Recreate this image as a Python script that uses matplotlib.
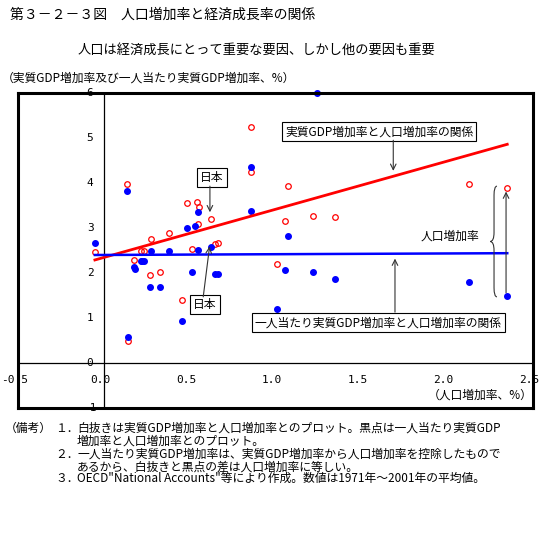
import numpy as np
import matplotlib
matplotlib.use('Agg')
import matplotlib.pyplot as plt
from matplotlib.path import Path
from matplotlib.patches import PathPatch

# 字体：日文用 Noto Sans CJK JP，缺字时退回 DejaVu Sans
plt.rcParams['font.family'] = ['Noto Sans CJK JP', 'DejaVu Sans']
plt.rcParams['axes.unicode_minus'] = False

# 数据
# 白抜き：実質GDP増加率 vs 人口増加率
red_x = [-0.052, 0.135, 0.141, 0.176, 0.215, 0.234, 0.267, 0.273, 0.326, 0.380,
         0.457, 0.484, 0.512, 0.540, 0.552, 0.549, 0.626, 0.649, 0.665, 0.859,
         0.855, 1.008, 1.058, 1.072, 1.217, 1.349, 2.130, 2.347]
red_y = [2.47, 3.98, 0.50, 2.30, 2.49, 2.50, 1.95, 2.76, 2.02, 2.90,
         1.41, 3.55, 2.54, 3.58, 3.47, 3.09, 3.21, 2.64, 2.67, 5.24,
         4.24, 2.21, 3.16, 3.93, 3.26, 3.24, 3.98, 3.88]

# 黒点：一人当たり実質GDP増加率 vs 人口増加率
blue_x = [-0.052, 0.135, 0.141, 0.176, 0.180, 0.215, 0.225, 0.234, 0.267, 0.273,
          0.326, 0.380, 0.457, 0.484, 0.512, 0.533, 0.549, 0.549, 0.626, 0.650,
          0.665, 0.859, 0.855, 1.008, 1.058, 1.072, 1.217, 1.240, 1.349, 2.130,
          2.347]
blue_y = [2.66, 3.83, 0.58, 2.14, 2.10, 2.27, 2.27, 2.27, 1.68, 2.49,
          1.70, 2.50, 0.93, 3.01, 2.02, 3.04, 3.35, 2.51, 2.57, 1.98,
          1.98, 4.35, 3.38, 1.19, 2.06, 2.82, 2.02, 6.00, 1.87, 1.80,
          1.50]

# 回帰線（端点）
red_fit_x = [-0.052, 2.35]
red_fit_y = [2.29, 4.86]
blue_fit_x = [-0.052, 2.35]
blue_fit_y = [2.40, 2.44]

# 目盛
x_ticks = [-0.5, 0.0, 0.5, 1.0, 1.5, 2.0, 2.5]
x_tick_labels = ['-0.5', '0.0', '0.5', '1.0', '1.5', '2.0', '2.5']
y_ticks = [-1, 0, 1, 2, 3, 4, 5, 6]
y_tick_labels = ['-1', '0', '1', '2', '3', '4', '5', '6']

# 日本の位置
japan_x = 0.626
japan_red_y = 3.21
japan_blue_y = 2.57

fig = plt.figure(figsize=(5.5, 5.36), dpi=100)
ax = fig.add_axes([18 / 550, 1 - 408 / 536, 515 / 550, 315 / 536])
ax.set_xlim(-0.5, 2.5)
ax.set_ylim(-1, 6)
ax.set_xticks([])
ax.set_yticks([])
for s in ax.spines.values():
    s.set_linewidth(2.2)
    s.set_zorder(6)

# 軸線
ax.axhline(0, color='black', lw=0.9, zorder=1)
ax.axvline(0, color='black', lw=0.9, zorder=1)

# 目盛ラベル
for v, lab in zip(x_ticks, x_tick_labels):
    ax.text(v - 0.02, -0.38, lab, ha='center', va='center', fontsize=8,
            family='DejaVu Sans Mono', zorder=1, clip_on=False)
for v, lab in zip(y_ticks, y_tick_labels):
    ax.text(-0.08, v, lab, ha='center', va='center', fontsize=8,
            family='DejaVu Sans Mono', zorder=1)

# 散布図
ax.plot(red_x, red_y, 'o', ms=4.0, mfc='none', mec='red', mew=0.9,
        zorder=3, clip_on=False)
ax.plot(blue_x, blue_y, 'o', ms=4.0, color='blue', mec='blue',
        zorder=3, clip_on=False)

# 回帰線
ax.plot(red_fit_x, red_fit_y, color='red', lw=2.0, zorder=4)
ax.plot(blue_fit_x, blue_fit_y, color='blue', lw=1.8, zorder=4)

box = dict(boxstyle='square,pad=0.25', fc='white', ec='black', lw=0.8)
arrow = dict(arrowstyle='->', color='#333333', lw=0.8, shrinkA=0, shrinkB=0)

# 実質GDP増加率と人口増加率の関係
ax.text(1.605, 5.14, '実質GDP増加率と人口増加率の関係', ha='center', va='center',
        fontsize=8.5, bbox=box, zorder=5)
ax.annotate('', xy=(1.686, 4.27), xytext=(1.686, 4.95), arrowprops=arrow, zorder=5)

# 一人当たり実質GDP増加率と人口増加率の関係
ax.text(1.598, 0.895, '一人当たり実質GDP増加率と人口増加率の関係', ha='center',
        va='center', fontsize=8.5, bbox=box, zorder=5)
ax.annotate('', xy=(1.696, 2.32), xytext=(1.696, 1.13), arrowprops=arrow, zorder=5)

# 日本
ax.text(0.63, 4.12, '日本', ha='center', va='center', fontsize=8.5, bbox=box, zorder=5)
ax.annotate('', xy=(japan_x - 0.008, japan_red_y + 0.14), xytext=(0.618, 3.93),
            arrowprops=arrow, zorder=5)
ax.text(0.589, 1.30, '日本', ha='center', va='center', fontsize=8.5, bbox=box, zorder=5)
ax.annotate('', xy=(japan_x - 0.01, japan_blue_y + 0.02), xytext=(0.579, 1.47),
            arrowprops=arrow, zorder=5)

# 人口増加率（差）
ax.text(2.017, 2.81, '人口増加率', ha='center', va='center', fontsize=8.5, zorder=5)
ax.annotate('', xy=(2.343, 3.81), xytext=(2.343, 1.56), arrowprops=arrow, zorder=5)

# 波括弧
xs, xm, xt = 2.29, 2.273, 2.25
yt, ym, yb = 3.93, 2.70, 1.47
verts = [(xs, yt), (xm, yt), (xm, yt - 0.2),
         (xm, ym + 0.2),
         (xm, ym), (xt, ym),
         (xm, ym), (xm, ym - 0.2),
         (xm, yb + 0.2),
         (xm, yb), (xs, yb)]
codes = [Path.MOVETO, Path.CURVE3, Path.CURVE3,
         Path.LINETO,
         Path.CURVE3, Path.CURVE3,
         Path.CURVE3, Path.CURVE3,
         Path.LINETO,
         Path.CURVE3, Path.CURVE3]
ax.add_patch(PathPatch(Path(verts, codes), fc='none', ec='#333333', lw=0.8, zorder=5))

# 軸ラベル
ax.text(2.5, -0.72, '（人口増加率、%）', ha='right', va='center', fontsize=8.5, zorder=5)

# タイトル等
fig.text(10 / 550, 1 - 15 / 536, '第３－２－３図　人口増加率と経済成長率の関係',
         ha='left', va='center', fontsize=10)
fig.text(78 / 550, 1 - 50 / 536, '人口は経済成長にとって重要な要因、しかし他の要因も重要',
         ha='left', va='center', fontsize=9.5)
fig.text(2 / 550, 1 - 77.7 / 536, '（実質GDP増加率及び一人当たり実質GDP増加率、%）',
         ha='left', va='center', fontsize=8.5)

notes = [
    (5, 428, '（備考）'),
    (55, 428, '１．'),
    (77, 428, '白抜きは実質GDP増加率と人口増加率とのプロット。黒点は一人当たり実質GDP'),
    (77, 441, '増加率と人口増加率とのプロット。'),
    (55, 454, '２．'),
    (77, 454, '一人当たり実質GDP増加率は、実質GDP増加率から人口増加率を控除したもので'),
    (77, 466.7, 'あるから、白抜きと黒点の差は人口増加率に等しい。'),
    (55, 478.5, '３．'),
    (77, 478.5, 'OECD"National Accounts"等により作成。数値は1971年～2001年の平均値。'),
]
for x, y, t in notes:
    fig.text(x / 550, 1 - y / 536, t, ha='left', va='center', fontsize=8.5)

fig.savefig('out.png', dpi=100, facecolor='white')
